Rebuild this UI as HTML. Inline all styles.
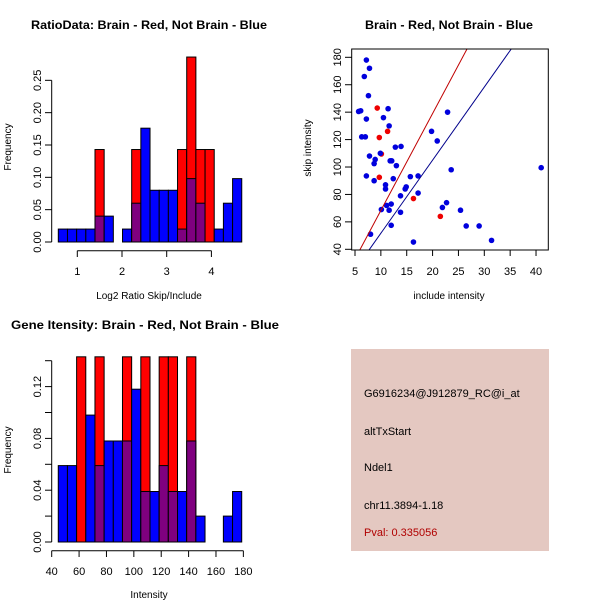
<!DOCTYPE html>
<html><head><meta charset="utf-8"><style>
html,body{margin:0;padding:0;background:#fff}
svg{display:block;font-family:"Liberation Sans",sans-serif}
</style></head><body>
<svg id="c" width="600" height="600" viewBox="0 0 600 600">
<rect x="351" y="349" width="198" height="202" fill="#e4c8c1"/>
<text x="364" y="397" font-size="11">G6916234@J912879_RC@i_at</text>
<text x="364" y="435" font-size="11">altTxStart</text>
<text x="364" y="471" font-size="11">Ndel1</text>
<text x="364" y="509" font-size="11">chr11.3894-1.18</text>
<text x="364" y="536" font-size="11" fill="#b00000">Pval: 0.335056</text>
</svg>
<script>
// ---- Ratio histogram data ----
const ratioBinStart = 0.575, ratioBinWidth = 0.2052;
const ratioRed  = [0,0,0,0,0.143,0,0,0,0.143,0,0,0,0,0.143,0.286,0.143,0.143,0,0,0];
const ratioBlue = [0.02,0.02,0.02,0.02,0.04,0.04,0,0.02,0.06,0.176,0.08,0.08,0.08,0.02,0.098,0.06,0,0.02,0.06,0.098];
const ratioYTicks = [0,0.05,0.10,0.15,0.20,0.25];
const ratioYLabels = ["0.00","0.05","0.10","0.15","0.20","0.25"];
const ratioXTicks = [1,2,3,4];
// ---- Intensity histogram data ----
const intBinStart = 44.8, intBinWidth = 6.7;
const intRed  = [0,0,0.143,0,0.143,0,0,0.143,0,0.143,0,0.143,0.143,0,0.143,0,0,0,0,0];
const intBlue = [0.059,0.059,0,0.098,0.059,0.078,0.078,0.078,0.118,0.039,0.039,0.059,0.039,0.039,0.078,0.02,0,0,0.02,0.039];
const intYTicks = [0,0.02,0.04,0.06,0.08,0.10,0.12,0.14];
const intYLabels = ["0.00","","0.04","","0.08","","0.12",""];
const intXTicks = [40,60,80,100,120,140,160,180];
// ---- Scatter data ----
const blueX = [7.2,7.8,6.8,7.6,5.7,6.1,7.2,10.5,11.4,11.6,6.3,7.0,22.9,19.8,20.9,12.8,13.9,7.8,9.9,8.9,8.7,11.8,12.1,13.0,23.6,41.0,7.2,8.7,10.9,10.9,12.4,15.7,17.2,17.2,14.7,14.9,13.8,11.1,12.0,10.1,11.6,21.9,22.7,25.4,13.8,12.0,8.0,26.5,29.0,31.4,16.3];
const blueY = [178,172,166,152,140.5,141,135,136,142.5,130,122,122,140,126,119,114.5,115,108,110,105.5,102.5,104.5,104.5,101,98,99.5,93.5,90,87,84,91.5,93,93.5,81,84,85.5,79,72,73,69,68.5,70.5,74,68.5,67,57.5,51,57,57,46.5,45.3];
const redX = [9.3,11.3,9.7,10.1,9.7,16.3,21.5];
const redY = [143,126,121.5,109.5,92.5,77,64];
const lineSlope = [7.07,5.33];
const lineIntercept = [-2.4,-1.6];
const lineColor = ["#c00000","#00008b"];
const scXTicks = [5,10,15,20,25,30,35,40];
const scYTicks = [40,60,80,100,120,140,160,180];

const svg = document.getElementById('c');
const NS = 'http://www.w3.org/2000/svg';
function el(tag, attrs, parent){const e=document.createElementNS(NS,tag);for(const k in attrs)e.setAttribute(k,attrs[k]);(parent||svg).appendChild(e);return e;}
function txt(x,y,s,size,extra){const t=el('text',Object.assign({x:x,y:y,'font-size':size,'text-anchor':'middle'},extra||{}));t.textContent=s;return t;}

// ===== Ratio histogram =====
const rx = v => 77.3 + (v-1)*44.7;
const ry = v => 242 - v*646.7;
function hist(xf, yf, start, w, red, blue, prefix){
  const g = el('g',{});
  
  
  for(let i=0;i<red.length;i++){
    const x0=xf(start+i*w), x1=xf(start+(i+1)*w);
    const r=red[i], b=blue[i];
    if(r>0){const e=el('rect',{x:x0,y:yf(r),width:x1-x0,height:yf(0)-yf(r),fill:'#ff0000',stroke:'#000','stroke-width':1},g);
      
      }
    if(b>0){const e=el('rect',{x:x0,y:yf(b),width:x1-x0,height:yf(0)-yf(b),fill:(r>0?'#7f007f':'#0000ff'),stroke:'#000','stroke-width':1},g);
      
      }
  }
}
hist(rx, ry, ratioBinStart, ratioBinWidth, ratioRed, ratioBlue, 'ratio');
// y axis
el('line',{x1:51.7,y1:ry(0),x2:51.7,y2:ry(0.25),stroke:'#000'});
ratioYTicks.forEach((v,i)=>{
  el('line',{x1:45,y1:ry(v),x2:51.7,y2:ry(v),stroke:'#000'});
  const t=txt(38,ry(v),ratioYLabels[i],11,{transform:`rotate(-90 38 ${ry(v)})`,'dominant-baseline':'middle'});
  
  
});
el('line',{x1:rx(1),y1:250.7,x2:rx(4),y2:250.7,stroke:'#000'});
ratioXTicks.forEach(v=>{
  el('line',{x1:rx(v),y1:250.7,x2:rx(v),y2:257,stroke:'#000'});
  const t=txt(rx(v),275,String(v),11);
  
  
});
let t=txt(149,299,'Log2 Ratio Skip/Include',10);  
t=txt(11,147,'Frequency',10,{transform:'rotate(-90 11 147)'});  
t=txt(149,29,'RatioData: Brain - Red, Not Brain - Blue',12,{'font-weight':'bold',textLength:236,lengthAdjust:'spacingAndGlyphs'});  

// ===== Intensity histogram =====
const ix = v => 51.7 + (v-40)*1.369;
const iy = v => 542 - v*1295;
hist(ix, iy, intBinStart, intBinWidth, intRed, intBlue, 'intensity');
el('line',{x1:51.7,y1:iy(0),x2:51.7,y2:iy(0.14),stroke:'#000'});
intYTicks.forEach((v,i)=>{
  el('line',{x1:45,y1:iy(v),x2:51.7,y2:iy(v),stroke:'#000'});
  if(intYLabels[i]){const t=txt(38,iy(v),intYLabels[i],11,{transform:`rotate(-90 38 ${iy(v)})`,'dominant-baseline':'middle'});
  
  }
});
el('line',{x1:ix(40),y1:550.7,x2:ix(180),y2:550.7,stroke:'#000'});
intXTicks.forEach(v=>{
  el('line',{x1:ix(v),y1:550.7,x2:ix(v),y2:557,stroke:'#000'});
  const t=txt(ix(v),575,String(v),11);
  
  
});
t=txt(149,598,'Intensity',10);  
t=txt(11,450,'Frequency',10,{transform:'rotate(-90 11 450)'});  
t=txt(145,329,'Gene Itensity: Brain - Red, Not Brain - Blue',12,{'font-weight':'bold',textLength:268,lengthAdjust:'spacingAndGlyphs'});  

// ===== Scatter =====
const sx = v => 355 + (v-5)*5.172;
const sy = v => 249.3 - (v-40)*1.3714;
el('defs',{}).innerHTML='<clipPath id="sc"><rect x="351.7" y="49" width="196.6" height="201"/></clipPath>';
const sg = el('g',{'clip-path':'url(#sc)'});


redX.forEach((v,i)=>{const c=el('circle',{cx:sx(v),cy:sy(redY[i]),r:2.8,fill:'#ee0000'},sg);
  
  });
blueX.forEach((v,i)=>{const c=el('circle',{cx:sx(v),cy:sy(blueY[i]),r:2.8,fill:'#0000dd'},sg);
  
  });
lineSlope.forEach((m,i)=>{
  const l=el('line',{x1:sx(0),y1:sy(lineIntercept[i]),x2:sx(45),y2:sy(m*45+lineIntercept[i]),stroke:lineColor[i],'stroke-width':1},sg);
  
  
});
const box=el('rect',{x:351.7,y:49,width:196.6,height:201,fill:'none',stroke:'#000'});


scXTicks.forEach(v=>{
  el('line',{x1:sx(v),y1:250,x2:sx(v),y2:256,stroke:'#000'});
  const t=txt(sx(v),275,String(v),11);
  
  
});
scYTicks.forEach(v=>{
  el('line',{x1:345,y1:sy(v),x2:351.7,y2:sy(v),stroke:'#000'});
  const t=txt(338,sy(v),String(v),11,{transform:`rotate(-90 338 ${sy(v)})`,'dominant-baseline':'middle'});
  
  
});
t=txt(449,299,'include intensity',10);  
t=txt(311,148,'skip intensity',10,{transform:'rotate(-90 311 148)'});  
t=txt(449,29,'Brain - Red, Not Brain - Blue',12,{'font-weight':'bold',textLength:168,lengthAdjust:'spacingAndGlyphs'});  
</script>
</body></html>
